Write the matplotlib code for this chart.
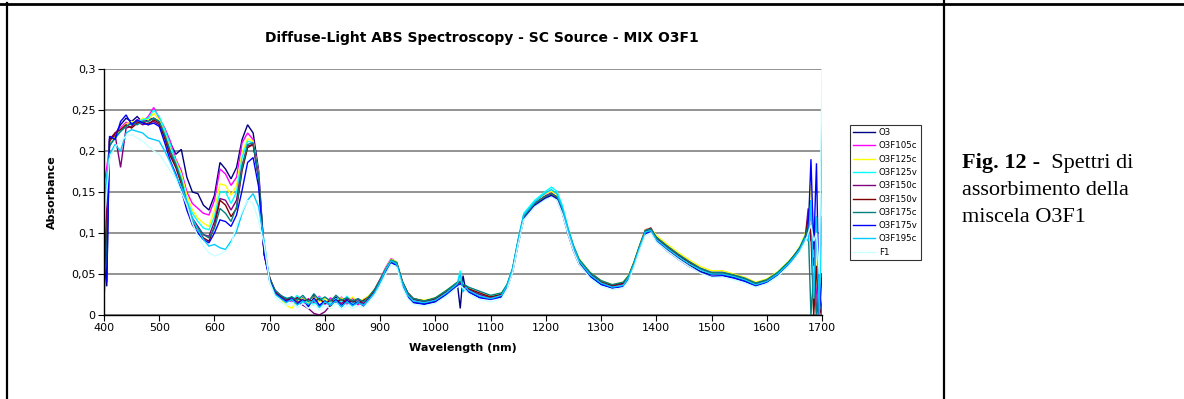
import matplotlib
matplotlib.use("Agg")
import matplotlib.pyplot as plt
from matplotlib.lines import Line2D

# ---------------- data ----------------
wavelength = [400, 405, 410, 420, 430, 440, 450, 460, 470, 480, 490, 500, 510, 520, 530, 540, 550, 560, 570, 580,
              590, 600, 610, 620, 630, 640, 650, 660, 670, 680, 690,
              700, 710, 720, 730, 740, 750, 760, 770, 780, 790, 800, 810, 820, 830, 840, 850, 860, 870, 880, 890, 900,
              910, 920, 930, 940, 950, 960, 980, 1000, 1020, 1040, 1045, 1050, 1055, 1060, 1080, 1100, 1120, 1130,
              1140, 1150, 1160, 1180, 1200, 1210, 1220, 1230, 1240, 1250, 1260, 1280, 1300, 1320, 1340, 1350, 1360,
              1370, 1380, 1390, 1400, 1420, 1440, 1460, 1480, 1500, 1520, 1540, 1560, 1580, 1600, 1620, 1640, 1650,
              1660, 1670, 1675, 1680, 1685, 1690, 1695, 1700]

O3 = [0.090, 0.035, 0.215, 0.220, 0.232, 0.240, 0.236, 0.242, 0.235, 0.238, 0.240, 0.236, 0.226, 0.210, 0.196,
      0.202, 0.168, 0.150, 0.148, 0.134, 0.128, 0.146, 0.186, 0.178, 0.166, 0.180, 0.214, 0.232, 0.222, 0.176, 0.075,
      0.046, 0.027, 0.021, 0.017, 0.022, 0.014, 0.021, 0.012, 0.024, 0.010, 0.018, 0.013, 0.022, 0.011, 0.020, 0.014,
      0.017, 0.012, 0.020, 0.028, 0.040,
      0.052, 0.064, 0.062, 0.038, 0.023, 0.016, 0.014, 0.017, 0.026, 0.037, 0.008, 0.048, 0.030,
      0.029, 0.022, 0.020, 0.023, 0.034, 0.054, 0.088, 0.118, 0.134, 0.143,
      0.146, 0.142, 0.125, 0.100, 0.080, 0.064, 0.048, 0.038, 0.033, 0.035,
      0.044, 0.062, 0.082, 0.100, 0.103, 0.092, 0.080, 0.070, 0.061, 0.053,
      0.049, 0.049, 0.046, 0.042, 0.036, 0.040, 0.049, 0.062, 0.070, 0.080, 0.092,
      0.110, 0.140, 0.060, 0.120, 0.000, 0.020]

O3F105c = [0.160, 0.180, 0.205, 0.222, 0.228, 0.235, 0.232, 0.238, 0.236, 0.242, 0.253, 0.240, 0.228, 0.212, 0.190,
           0.176, 0.150, 0.136, 0.130, 0.124, 0.122, 0.140, 0.178, 0.172, 0.158, 0.168, 0.210, 0.222, 0.214, 0.172,
           0.074,
           0.044, 0.030, 0.024, 0.019, 0.016, 0.022, 0.013, 0.020, 0.015, 0.023, 0.012, 0.021, 0.015, 0.022, 0.013,
           0.021, 0.012, 0.019, 0.023, 0.031, 0.044,
           0.058, 0.069, 0.064, 0.041, 0.027, 0.020, 0.017, 0.020, 0.029, 0.039, 0.042, 0.036, 0.034,
           0.031, 0.025, 0.022, 0.026, 0.037, 0.057, 0.091, 0.121, 0.137, 0.146,
           0.149, 0.145, 0.129, 0.105, 0.084, 0.068, 0.051, 0.041, 0.036, 0.039,
           0.048, 0.065, 0.085, 0.104, 0.106, 0.095, 0.084, 0.074, 0.065, 0.057,
           0.052, 0.052, 0.049, 0.045, 0.039, 0.043, 0.052, 0.065, 0.073, 0.082, 0.096,
           0.110, 0.120, 0.090, 0.030, 0.000, 0.020]

O3F125c = [0.120, 0.150, 0.210, 0.218, 0.226, 0.233, 0.236, 0.235, 0.240, 0.238, 0.246, 0.238, 0.225, 0.205, 0.188,
           0.172, 0.146, 0.128, 0.118, 0.112, 0.108, 0.128, 0.160, 0.158, 0.146, 0.158, 0.198, 0.215, 0.212, 0.170,
           0.076,
           0.045, 0.029, 0.020, 0.012, 0.008, 0.018, 0.020, 0.014, 0.022, 0.016, 0.020, 0.010, 0.018, 0.021, 0.015,
           0.022, 0.016, 0.019, 0.024, 0.031, 0.043,
           0.057, 0.068, 0.065, 0.042, 0.027, 0.020, 0.018, 0.021, 0.030, 0.040, 0.044, 0.034, 0.035,
           0.032, 0.026, 0.023, 0.027, 0.037, 0.057, 0.091, 0.122, 0.138, 0.148,
           0.151, 0.146, 0.130, 0.106, 0.085, 0.069, 0.052, 0.042, 0.037, 0.040,
           0.049, 0.066, 0.086, 0.104, 0.106, 0.097, 0.086, 0.076, 0.067, 0.059,
           0.054, 0.054, 0.050, 0.046, 0.040, 0.044, 0.053, 0.066, 0.074, 0.084, 0.100,
           0.120, 0.160, 0.100, 0.050, 0.000, 0.030]

O3F125v = [0.100, 0.160, 0.208, 0.215, 0.224, 0.230, 0.233, 0.236, 0.238, 0.240, 0.250, 0.242, 0.226, 0.208, 0.186,
           0.168, 0.140, 0.124, 0.114, 0.106, 0.104, 0.120, 0.150, 0.150, 0.136, 0.150, 0.192, 0.212, 0.210, 0.168,
           0.078,
           0.042, 0.026, 0.023, 0.021, 0.017, 0.024, 0.015, 0.018, 0.012, 0.022, 0.017, 0.014, 0.020, 0.016, 0.023,
           0.013, 0.018, 0.016, 0.021, 0.029, 0.041,
           0.056, 0.067, 0.064, 0.041, 0.026, 0.019, 0.017, 0.020, 0.029, 0.040, 0.054, 0.030, 0.036,
           0.032, 0.025, 0.022, 0.026, 0.038, 0.058, 0.093, 0.124, 0.140, 0.151,
           0.156, 0.151, 0.133, 0.107, 0.085, 0.068, 0.050, 0.040, 0.035, 0.038,
           0.047, 0.064, 0.084, 0.102, 0.104, 0.094, 0.083, 0.073, 0.064, 0.056,
           0.051, 0.051, 0.048, 0.044, 0.038, 0.042, 0.052, 0.065, 0.073, 0.083, 0.098,
           0.100, 0.130, 0.070, 0.110, 0.000, 0.120]

O3F150c = [0.050, 0.130, 0.212, 0.220, 0.180, 0.228, 0.230, 0.236, 0.232, 0.234, 0.236, 0.232, 0.218, 0.198, 0.182,
           0.162, 0.136, 0.118, 0.108, 0.098, 0.096, 0.114, 0.142, 0.140, 0.128, 0.140, 0.182, 0.206, 0.208, 0.166,
           0.074,
           0.044, 0.028, 0.022, 0.019, 0.021, 0.016, 0.012, 0.008, 0.002, 0.000, 0.004, 0.012, 0.018, 0.014, 0.020,
           0.016, 0.019, 0.014, 0.021, 0.030, 0.042,
           0.055, 0.066, 0.063, 0.040, 0.026, 0.019, 0.016, 0.019, 0.028, 0.038, 0.041, 0.035, 0.033,
           0.031, 0.025, 0.021, 0.025, 0.036, 0.056, 0.090, 0.120, 0.136, 0.145,
           0.148, 0.144, 0.128, 0.104, 0.083, 0.067, 0.050, 0.040, 0.035, 0.038,
           0.047, 0.064, 0.084, 0.103, 0.106, 0.094, 0.083, 0.073, 0.064, 0.056,
           0.051, 0.051, 0.048, 0.044, 0.038, 0.042, 0.051, 0.064, 0.073, 0.082, 0.096,
           0.130, 0.090, 0.110, 0.000, 0.020, 0.010]

O3F150v = [0.030, 0.100, 0.214, 0.222, 0.226, 0.232, 0.228, 0.234, 0.236, 0.232, 0.238, 0.234, 0.215, 0.194, 0.180,
           0.160, 0.132, 0.112, 0.104, 0.094, 0.090, 0.108, 0.140, 0.134, 0.120, 0.130, 0.176, 0.204, 0.208, 0.168,
           0.076,
           0.045, 0.029, 0.023, 0.020, 0.018, 0.021, 0.017, 0.019, 0.016, 0.020, 0.014, 0.018, 0.016, 0.019, 0.015,
           0.018, 0.014, 0.018, 0.022, 0.031, 0.043,
           0.056, 0.066, 0.063, 0.041, 0.027, 0.020, 0.017, 0.020, 0.028, 0.038, 0.040, 0.036, 0.035,
           0.032, 0.027, 0.022, 0.025, 0.036, 0.056, 0.090, 0.120, 0.136, 0.145,
           0.148, 0.143, 0.127, 0.103, 0.082, 0.066, 0.050, 0.040, 0.036, 0.039,
           0.047, 0.064, 0.084, 0.102, 0.105, 0.094, 0.083, 0.073, 0.064, 0.056,
           0.051, 0.051, 0.048, 0.044, 0.038, 0.042, 0.051, 0.064, 0.072, 0.081, 0.095,
           0.120, 0.100, 0.000, 0.060, 0.000, 0.010]

O3F175c = [0.020, 0.080, 0.206, 0.216, 0.224, 0.230, 0.234, 0.232, 0.236, 0.236, 0.240, 0.236, 0.220, 0.200, 0.184,
           0.164, 0.134, 0.114, 0.106, 0.098, 0.094, 0.106, 0.130, 0.124, 0.114, 0.132, 0.180, 0.208, 0.210, 0.168,
           0.078,
           0.044, 0.030, 0.024, 0.020, 0.022, 0.018, 0.024, 0.016, 0.026, 0.018, 0.022, 0.017, 0.024, 0.018, 0.021,
           0.017, 0.020, 0.016, 0.023, 0.031, 0.043,
           0.056, 0.067, 0.064, 0.041, 0.027, 0.020, 0.017, 0.021, 0.030, 0.040, 0.041, 0.037, 0.036,
           0.034, 0.029, 0.024, 0.027, 0.037, 0.056, 0.090, 0.120, 0.136, 0.145,
           0.148, 0.144, 0.128, 0.104, 0.084, 0.068, 0.052, 0.042, 0.037, 0.040,
           0.048, 0.065, 0.085, 0.103, 0.105, 0.095, 0.084, 0.074, 0.065, 0.057,
           0.052, 0.052, 0.049, 0.045, 0.039, 0.043, 0.052, 0.065, 0.073, 0.082, 0.096,
           0.110, 0.000, 0.050, 0.000, 0.030, 0.000]

O3F175v = [0.060, 0.040, 0.218, 0.214, 0.236, 0.244, 0.232, 0.238, 0.234, 0.232, 0.234, 0.230, 0.210, 0.188, 0.172,
           0.152, 0.128, 0.110, 0.100, 0.092, 0.088, 0.100, 0.116, 0.114, 0.108, 0.122, 0.152, 0.186, 0.192, 0.156,
           0.074,
           0.042, 0.026, 0.021, 0.016, 0.020, 0.013, 0.019, 0.010, 0.021, 0.012, 0.017, 0.011, 0.019, 0.010, 0.018,
           0.012, 0.016, 0.011, 0.019, 0.027, 0.039,
           0.052, 0.063, 0.061, 0.037, 0.022, 0.015, 0.013, 0.016, 0.025, 0.036, 0.038, 0.034, 0.032,
           0.028, 0.021, 0.019, 0.022, 0.033, 0.053, 0.087, 0.117, 0.133, 0.142,
           0.145, 0.141, 0.124, 0.099, 0.078, 0.062, 0.047, 0.037, 0.033, 0.035,
           0.044, 0.061, 0.081, 0.099, 0.102, 0.090, 0.078, 0.068, 0.059, 0.052,
           0.047, 0.048, 0.045, 0.041, 0.035, 0.040, 0.049, 0.062, 0.070, 0.079, 0.093,
           0.100, 0.190, 0.080, 0.185, 0.000, 0.050]

O3F195c = [0.140, 0.170, 0.196, 0.208, 0.200, 0.222, 0.226, 0.224, 0.222, 0.216, 0.214, 0.212, 0.200, 0.186, 0.170,
           0.156, 0.138, 0.118, 0.104, 0.092, 0.084, 0.086, 0.082, 0.080, 0.090, 0.102, 0.124, 0.140, 0.148, 0.132,
           0.090,
           0.040, 0.025, 0.020, 0.015, 0.019, 0.012, 0.017, 0.013, 0.018, 0.009, 0.016, 0.012, 0.017, 0.010, 0.016,
           0.011, 0.015, 0.012, 0.019, 0.027, 0.040,
           0.055, 0.066, 0.062, 0.039, 0.024, 0.017, 0.015, 0.018, 0.027, 0.038, 0.050, 0.028, 0.034,
           0.030, 0.023, 0.020, 0.024, 0.036, 0.057, 0.092, 0.122, 0.138, 0.149,
           0.153, 0.148, 0.131, 0.105, 0.083, 0.066, 0.049, 0.039, 0.034, 0.036,
           0.046, 0.063, 0.083, 0.101, 0.103, 0.092, 0.081, 0.071, 0.062, 0.055,
           0.050, 0.050, 0.047, 0.043, 0.037, 0.041, 0.050, 0.063, 0.071, 0.080, 0.094,
           0.090, 0.140, 0.020, 0.120, 0.000, 0.250]

F1 = [0.110, 0.150, 0.190, 0.205, 0.212, 0.218, 0.220, 0.216, 0.212, 0.206, 0.200, 0.196, 0.186, 0.176, 0.166,
      0.150, 0.134, 0.112, 0.096, 0.084, 0.076, 0.072, 0.074, 0.078, 0.086, 0.110, 0.126, 0.140, 0.136, 0.114, 0.086,
      0.040, 0.022, 0.016, 0.012, 0.015, 0.009, 0.014, 0.008, 0.013, 0.006, 0.012, 0.008, 0.014, 0.007, 0.012,
      0.008, 0.011, 0.009, 0.016, 0.024, 0.036,
      0.050, 0.062, 0.058, 0.034, 0.020, 0.013, 0.011, 0.014, 0.023, 0.034, 0.036, 0.033, 0.030,
      0.026, 0.019, 0.016, 0.020, 0.032, 0.052, 0.086, 0.116, 0.132, 0.141,
      0.144, 0.140, 0.123, 0.099, 0.078, 0.062, 0.045, 0.035, 0.031, 0.033,
      0.042, 0.059, 0.079, 0.097, 0.100, 0.089, 0.078, 0.068, 0.059, 0.051,
      0.046, 0.046, 0.043, 0.039, 0.034, 0.038, 0.047, 0.060, 0.068, 0.077, 0.090,
      0.100, 0.110, 0.090, 0.100, 0.050, 0.300]

series_names = ["O3", "O3F105c", "O3F125c", "O3F125v", "O3F150c", "O3F150v",
                "O3F175c", "O3F175v", "O3F195c", "F1"]
series_values = [O3, O3F105c, O3F125c, O3F125v, O3F150c, O3F150v, O3F175c, O3F175v, O3F195c, F1]
series_colors = ["#000080", "#FF00FF", "#FFFF00", "#00FFFF", "#800080", "#800000",
                 "#008080", "#0000FF", "#00CCFF", "#CCFFFF"]

x_ticks = [400, 500, 600, 700, 800, 900, 1000, 1100, 1200, 1300, 1400, 1500, 1600, 1700]
y_ticks = [0, 0.05, 0.1, 0.15, 0.2, 0.25, 0.3]
y_tick_labels = ["0", "0,05", "0,1", "0,15", "0,2", "0,25", "0,3"]

title = "Diffuse-Light ABS Spectroscopy - SC Source - MIX O3F1"
x_label = "Wavelength (nm)"
y_label = "Absorbance"
caption_bold = "Fig. 12"
caption_rest = " -  Spettri di"
caption_line2 = "assorbimento della"
caption_line3 = "miscela O3F1"

# ---------------- figure ----------------
W, H = 1184, 399
fig = plt.figure(figsize=(W / 100, H / 100), dpi=100)
fig.patch.set_facecolor("white")

ax = fig.add_axes([104 / W, 1 - 315 / H, 718 / W, 246 / H])
for name, vals, col in zip(series_names, series_values, series_colors):
    ax.plot(wavelength, vals, color=col, lw=1.0, label=name, solid_joinstyle="miter")

ax.set_xlim(400, 1700)
ax.set_ylim(0, 0.3)
ax.set_xticks(x_ticks)
ax.set_xticklabels([str(t) for t in x_ticks])
ax.set_yticks(y_ticks)
ax.set_yticklabels(y_tick_labels)
ax.yaxis.grid(True, color="#808080", lw=1.2)
ax.set_axisbelow(True)
for s in ["top", "right"]:
    ax.spines[s].set_visible(False)
for s in ["left", "bottom"]:
    ax.spines[s].set_color("black")
    ax.spines[s].set_linewidth(1.0)
ax.tick_params(axis="both", direction="out", length=4, width=0.8, labelsize=8, pad=2, colors="black")
for lab in ax.get_xticklabels() + ax.get_yticklabels():
    lab.set_family("DejaVu Sans")

fig.text(482 / W, 1 - 38 / H, title, ha="center", va="center", fontsize=10,
         fontweight="bold", family="DejaVu Sans")
fig.text(463 / W, 1 - 348 / H, x_label, ha="center", va="center", fontsize=8,
         fontweight="bold", family="DejaVu Sans")
fig.text(52 / W, 1 - 192 / H, y_label, ha="center", va="center", fontsize=8,
         fontweight="bold", rotation=90, family="DejaVu Sans")

leg = fig.legend(loc="upper left", bbox_to_anchor=(850 / W, 1 - 125 / H), borderaxespad=0,
                 frameon=True, fancybox=False, edgecolor="black",
                 handlelength=2.6, handletextpad=0.4, labelspacing=0.5, borderpad=0.35,
                 prop={"family": "DejaVu Sans", "size": 6.2})
leg.get_frame().set_linewidth(0.8)

# right caption
t1 = fig.text(962 / W, 1 - 168 / H, caption_bold, ha="left", va="baseline", fontsize=16,
              fontweight="bold", family="Liberation Serif")
fig.canvas.draw()
bb = t1.get_window_extent()
fig.text(bb.x1 / W, 1 - 168 / H, caption_rest, ha="left", va="baseline", fontsize=16,
         family="Liberation Serif")
fig.text(962 / W, 1 - 195 / H, caption_line2, ha="left", va="baseline", fontsize=16,
         family="Liberation Serif")
fig.text(962 / W, 1 - 222 / H, caption_line3, ha="left", va="baseline", fontsize=16,
         family="Liberation Serif")

# table borders
fig.add_artist(Line2D([0, 1], [1 - 4 / H, 1 - 4 / H], transform=fig.transFigure, color="black", lw=2.0))
fig.add_artist(Line2D([7 / W, 7 / W], [0, 1 - 3 / H], transform=fig.transFigure, color="black", lw=1.6))
fig.add_artist(Line2D([943.5 / W, 943.5 / W], [0, 1], transform=fig.transFigure, color="black", lw=1.6))

fig.savefig("out.png", dpi=100, facecolor="white")
